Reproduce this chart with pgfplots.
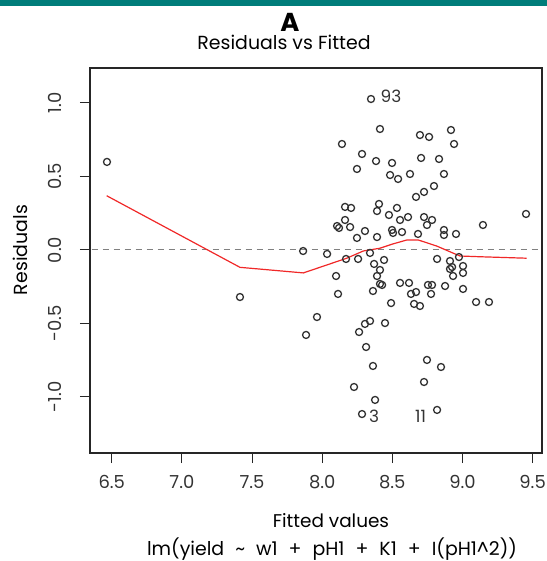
\documentclass[border=0pt]{standalone}
\usepackage{pgfplots}
\pgfplotsset{compat=1.18}
\usepackage{fontspec}
\setmainfont{Poppins}
\definecolor{tealbar}{RGB}{0,125,122}
\definecolor{ptcol}{RGB}{50,50,50}
\definecolor{lowess}{RGB}{240,40,40}

\pgfplotstableread{
x y
6.466 0.599
7.414 -0.320
7.864 -0.007
7.885 -0.578
7.963 -0.456
8.035 -0.027
8.348 1.027
8.412 0.823
8.141 0.721
8.284 0.653
8.384 0.605
8.498 0.592
8.248 0.551
8.484 0.510
8.541 0.483
8.626 0.517
8.669 0.361
8.163 0.293
8.206 0.286
8.405 0.313
8.391 0.265
8.533 0.286
8.476 0.238
8.697 0.782
8.762 0.769
8.918 0.816
8.940 0.721
8.705 0.626
8.833 0.619
8.868 0.517
8.797 0.435
8.726 0.395
9.453 0.245
8.612 0.224
8.726 0.224
8.555 0.204
8.783 0.204
8.747 0.170
8.163 0.204
8.106 0.163
8.120 0.150
8.199 0.156
8.305 0.129
8.248 0.082
8.391 0.088
8.498 0.136
8.505 0.116
8.569 0.122
8.683 0.109
8.868 0.136
8.868 0.102
8.954 0.109
9.146 0.170
8.170 -0.061
8.256 -0.061
8.341 -0.020
8.370 -0.095
8.441 -0.068
8.412 -0.136
8.391 -0.177
8.412 -0.231
8.427 -0.238
8.362 -0.279
8.099 -0.177
8.113 -0.299
8.555 -0.224
8.619 -0.224
8.633 -0.299
8.669 -0.286
8.655 -0.367
8.697 -0.381
8.491 -0.361
8.754 -0.238
8.783 -0.238
8.776 -0.299
8.876 -0.245
8.819 -0.061
8.911 -0.075
8.926 -0.116
8.911 -0.129
8.933 -0.177
8.975 -0.048
9.004 -0.109
9.004 -0.156
9.004 -0.265
9.097 -0.354
9.189 -0.354
8.341 -0.483
8.305 -0.503
8.448 -0.497
8.263 -0.558
8.313 -0.660
8.362 -0.789
8.227 -0.932
8.377 -1.020
8.284 -1.116
8.747 -0.748
8.847 -0.796
8.726 -0.898
8.819 -1.088
}\resid

\pgfplotstableread{
x y
6.464 0.369
7.414 -0.118
7.866 -0.156
8.175 -0.056
8.293 -0.007
8.412 0.012
8.500 0.040
8.603 0.068
8.685 0.068
8.816 0.027
8.935 -0.022
8.983 -0.041
9.125 -0.046
9.458 -0.056
}\lowessline

\begin{document}
\begin{tikzpicture}[x=1bp,y=1bp]
\begin{axis}[
  scale only axis, width=452bp, height=385bp,
  xmin=6.345, xmax=9.567, ymin=-1.381, ymax=1.238,
  axis line style={line width=1.3bp, draw=black!85},
  tick pos=left,
  tick align=outside, major tick length=10bp,
  tick style={line width=1bp, draw=black!85},
  xtick={6.5,7,7.5,8,8.5,9,9.5},
  xticklabels={6.5,7.0,7.5,8.0,8.5,9.0,9.5},
  ytick={-1,-0.5,0,0.5,1},
  yticklabels={-1.0,-0.5,0.0,0.5,1.0},
  /pgf/number format/assume math mode=true,
  ticklabel style={font=\fontsize{18}{20}\selectfont, text=black!80},
  xticklabel style={anchor=north, inner sep=0pt},
  xticklabel shift=12bp,
  yticklabel style={rotate=90, anchor=south, inner sep=0pt},
  yticklabel shift=18bp,
  clip=true,
]
\coordinate (BL) at (rel axis cs:0,0);
\addplot[draw=black!50, dash pattern=on 6bp off 5bp, line width=1bp, forget plot] coordinates {(6.2,0) (9.7,0)};
\addplot[only marks, mark=o, mark size=3.5bp, mark options={line width=1.3bp, draw=ptcol}] table[x=x,y=y] {\resid};
\addplot[lowess, line width=1.2bp, no marks] table[x=x,y=y] {\lowessline};
\node[font=\fontsize{17}{19}\selectfont, text=black!80] at (axis cs:8.491,1.048) {93};
\node[font=\fontsize{17}{19}\selectfont, text=black!80] at (axis cs:8.371,-1.129) {3};
\node[font=\fontsize{17}{19}\selectfont, text=black!80] at (axis cs:8.701,-1.129) {11};
\end{axis}
\fill[tealbar] ([shift={(-90,447)}]BL) rectangle ([shift={(457,453)}]BL);
\node[font=\fontsize{26}{28}\selectfont\bfseries, anchor=base, inner sep=0pt] at ([shift={(200,421)}]BL) {A};
\node[font=\fontsize{19}{21}\selectfont, anchor=base, inner sep=0pt] at ([shift={(194,403)}]BL) {Residuals vs Fitted};
\node[font=\fontsize{18.5}{20}\selectfont, anchor=base] at ([shift={(241,-74)}]BL) {Fitted values};
\node[font=\fontsize{19}{21}\selectfont, anchor=base] at ([shift={(242,-102)}]BL) {\spaceskip=11bp lm(yield \textasciitilde{} w1 + pH1 + K1 + I(pH1\textasciicircum{}2))};
\node[font=\fontsize{19}{21}\selectfont, rotate=90] at ([shift={(-70,203)}]BL) {Residuals};
\pgfresetboundingbox
\path[use as bounding box] ([shift={(-90,-108)}]BL) rectangle ([shift={(457,453)}]BL);
\end{tikzpicture}
\end{document}
